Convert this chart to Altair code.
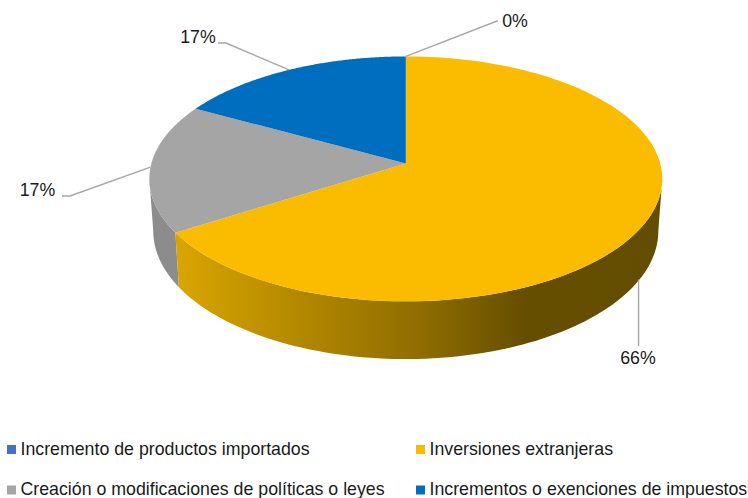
import numpy as np
import pandas as pd
import altair as alt

# Chart values, in drawing order clockwise from twelve o'clock
categories = ["Incremento de productos importados", "Inversiones extranjeras",
              "Creación o modificaciones de políticas o leyes", "Incrementos o exenciones de impuestos"]
shares = [0, 66, 17, 17]
top_colors = ["#4472C4", "#FBBC00", "#A5A5A5", "#006EBF"]
legend_font_sizes = [17.75, 17.75, 17.75, 17.75]

W, H = 748, 498
CX = 405.8
K = 0.1265  # perspective foreshortening across the disc
TOP = dict(a=254.4, b=120.5, y0=163.4)
BOTTOM = dict(a=250.5, b=126.0, y0=214.8)


def project(phi, plane):
    """Map a clockwise angle on the unit disc to page coordinates."""
    u, v = np.sin(phi), np.cos(phi)
    d = 1 + K * v
    return CX + plane["a"] * u / d, plane["y0"] - plane["b"] * v / d


def polygon(xs, ys):
    return pd.DataFrame({"x": xs, "y": ys, "i": np.arange(len(xs))})


x_scale = alt.Scale(domain=[0, W], range=[0, W], nice=False, zero=False)
y_scale = alt.Scale(domain=[0, H], range=[0, H], nice=False, zero=False)
X = alt.X("x:Q", scale=x_scale, axis=None)
Y = alt.Y("y:Q", scale=y_scale, axis=None)


def filled(df, fill):
    return alt.Chart(df).mark_line(fill=fill, stroke=None, interpolate="linear", clip=False).encode(
        x=X, y=Y, order=alt.Order("i:Q"))


fractions = np.cumsum([0] + shares) / sum(shares)
angles = fractions * 2 * np.pi
tangent = np.arcsin(np.sqrt(1 - K ** 2))
right_edge = np.pi - tangent
left_edge = np.pi + tangent

layers = []


def wall(start, end, fill):
    phi = np.linspace(start, end, 90)
    tx, ty = project(phi, TOP)
    bx, by = project(phi[::-1], BOTTOM)
    return filled(polygon(np.r_[tx, bx], np.r_[ty, by]), fill)


gold_wall = alt.Gradient(
    gradient="linear", x1=0, x2=1, y1=0, y2=0,
    stops=[alt.GradientStop(offset=0, color="#D9A500"),
           alt.GradientStop(offset=0.5, color="#8F6D00"),
           alt.GradientStop(offset=0.72, color="#654E00"),
           alt.GradientStop(offset=1, color="#634D00")])
layers.append(wall(left_edge, angles[2], "#8C8C8C"))
layers.append(wall(angles[2], right_edge, gold_wall))

for start, end, color, share in zip(angles[:-1], angles[1:], top_colors, shares):
    if share == 0:
        continue
    phi = np.linspace(start, end, 160)
    ex, ey = project(phi, TOP)
    layers.append(filled(polygon(np.r_[CX, ex], np.r_[TOP["y0"], ey]), color))

# Leader lines start on the rim at each slice's middle and end at an elbow beside its label
mids = (angles[:-1] + angles[1:]) / 2
planes = [TOP, BOTTOM, TOP, TOP]
elbows = [[(497, 21), (498, 21)], [(638, 346), (638, 347)], [(70, 196), (62, 196)], [(226, 43), (218, 43)]]
label_spots = [(515, 21.5), (638, 358.5), (37.5, 190.5), (198, 37.5)]
text_color = "#1A1A1A"

for mid, plane, elbow, spot, share in zip(mids, planes, elbows, label_spots, shares):
    sx, sy = project(mid, plane)
    if plane is BOTTOM:
        elbow = [(float(sx) - 1, elbow[0][1])]
        sx -= 1
    xs = [sx] + [p[0] for p in elbow]
    ys = [sy] + [p[1] for p in elbow]
    layers.append(alt.Chart(polygon(xs, ys)).mark_line(color="#A6A6A6", strokeWidth=1.4).encode(
        x=X, y=Y, order=alt.Order("i:Q")))
    label = pd.DataFrame({"x": [spot[0]], "y": [spot[1]], "t": [f"{share}%"]})
    layers.append(alt.Chart(label).mark_text(
        font="Liberation Sans", fontSize=17.75, color=text_color, align="center", baseline="middle"
    ).encode(x=X, y=Y, text="t:N"))

# Legend, two columns by two rows
legend_x = [11.5, 420.5, 11.5, 420.5]
legend_y = [449.5, 449.5, 490, 490]
legend = pd.DataFrame({"x": legend_x, "y": legend_y, "tx": [v + 9 for v in legend_x],
                       "name": categories, "color": top_colors, "fs": legend_font_sizes})
layers.append(alt.Chart(legend).mark_square(size=81, opacity=1).encode(
    x=X, y=Y, color=alt.Color("color:N", scale=None)))
layers.append(alt.Chart(legend).mark_text(
    font="Liberation Sans", color=text_color, align="left", baseline="middle"
).encode(x=alt.X("tx:Q", scale=x_scale, axis=None), y=Y, text="name:N",
         size=alt.Size("fs:Q", scale=None)))

chart = alt.layer(*layers).properties(
    width=W, height=H, padding=0, autosize=alt.AutoSizeParams(type="none"), background="white"
).configure_view(stroke=None)

chart.save("out.html", embed_options={"renderer": "svg", "actions": False})
